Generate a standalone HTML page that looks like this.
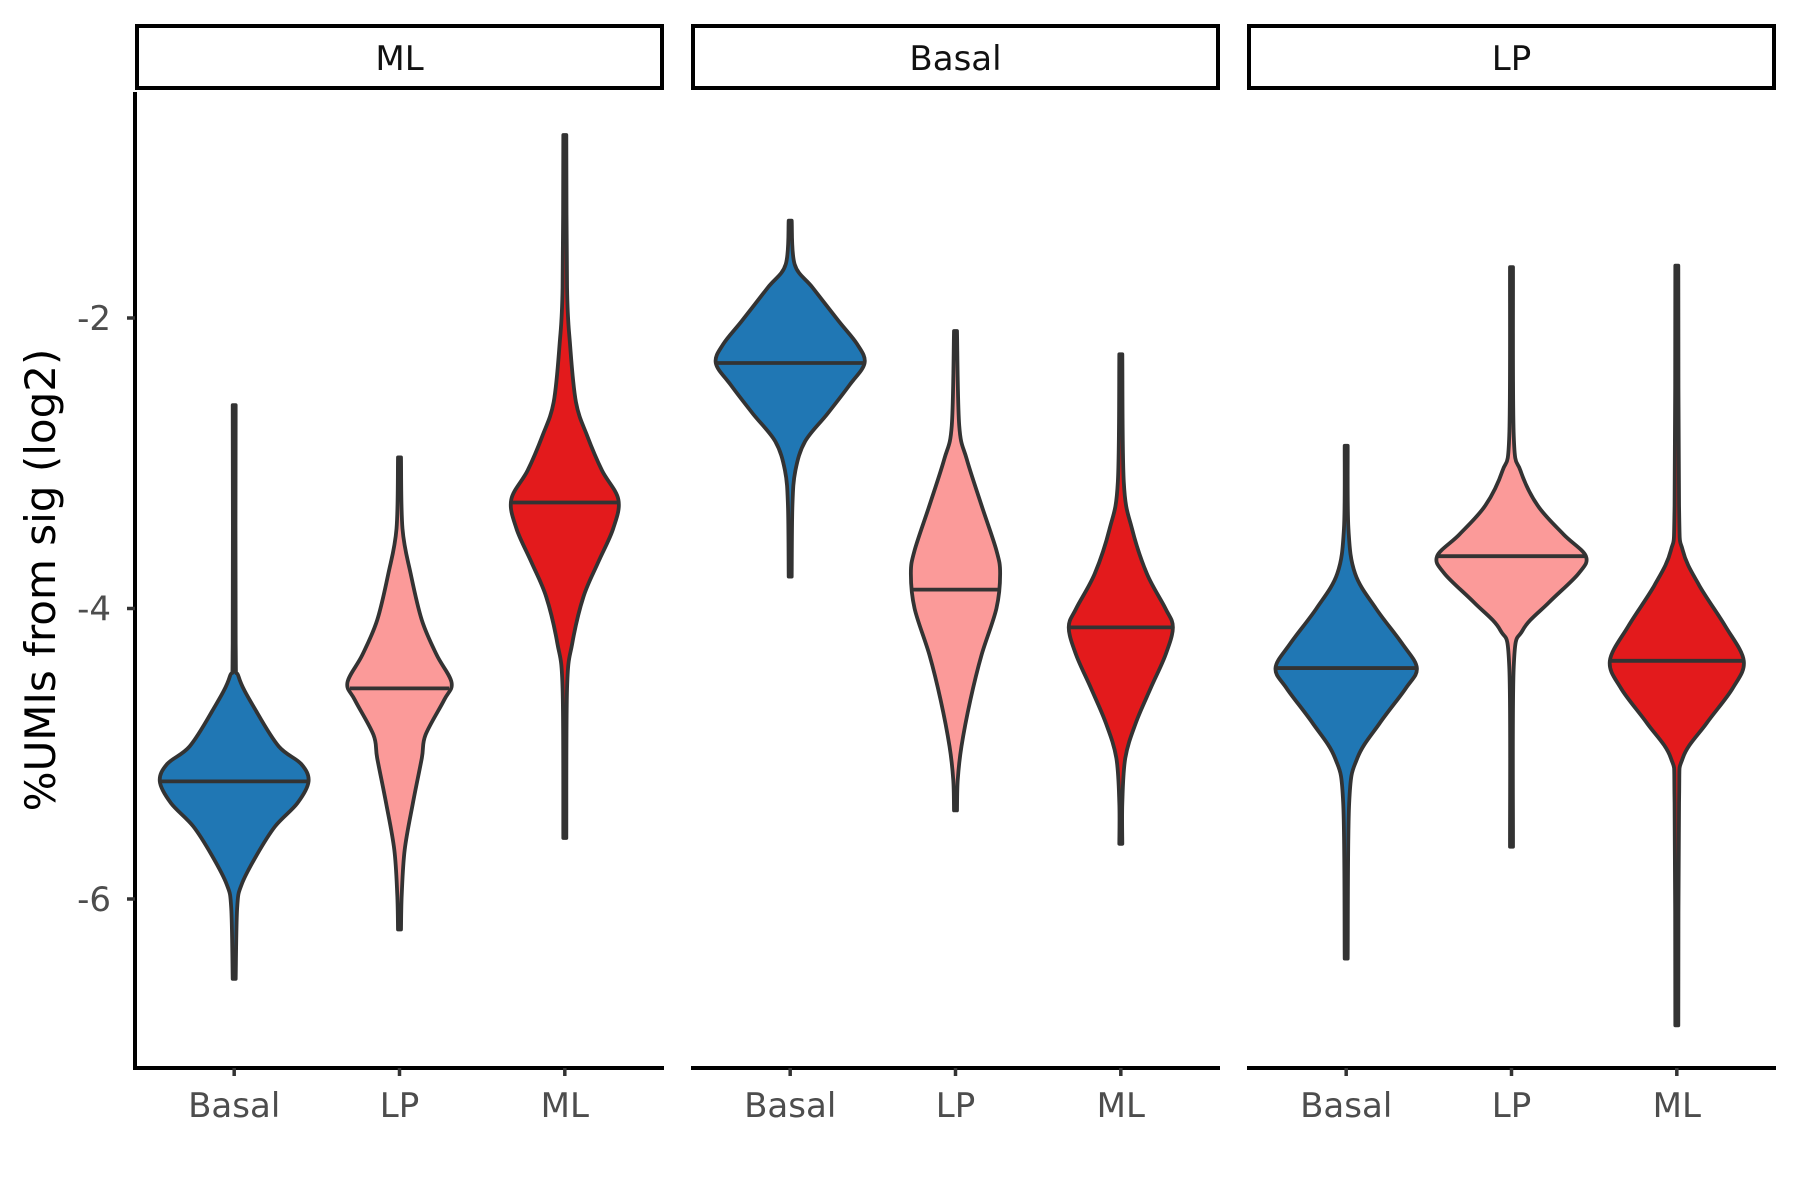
<!DOCTYPE html>
<html><head><meta charset="utf-8"><style>
html,body{margin:0;padding:0;background:#fff}
svg{display:block}
text{font-family:"DejaVu Sans","Liberation Sans",sans-serif}
</style></head><body>
<svg id="chart" width="1800" height="1200" viewBox="0 0 1800 1200" xmlns="http://www.w3.org/2000/svg">
<rect width="1800" height="1200" fill="#fff"/>
<g id="g"></g>
</svg>
<script>
const panels = ["ML", "Basal", "LP"];
const categories = ["Basal", "LP", "ML"];
const yTicks = [-2, -4, -6];
const fills = ["#2077B4", "#FB9A99", "#E31A1C"];
// each violin: [panelIndex, categoryIndex], medians, and density profiles [value, relativeHalfWidth]
const violinKeys = [[0,0],[0,1],[0,2],[1,0],[1,1],[1,2],[2,0],[2,1],[2,2]];
const medians = [-5.19, -4.55, -3.27, -2.31, -3.87, -4.13, -4.41, -3.64, -4.36];
const profiles = [
 [[-2.60,0.02],[-4.24,0.02],[-4.47,0.06],[-4.71,0.3],[-4.95,0.6],[-5.07,0.9],[-5.19,1.0],[-5.34,0.85],[-5.5,0.55],[-5.70,0.3],[-5.9,0.1],[-6.06,0.04],[-6.55,0.02]],
 [[-2.96,0.02],[-3.45,0.04],[-3.76,0.15],[-4.08,0.3],[-4.32,0.5],[-4.51,0.7],[-4.63,0.6],[-4.87,0.35],[-5.03,0.3],[-5.34,0.18],[-5.66,0.07],[-5.97,0.03],[-6.21,0.02]],
 [[-0.74,0.02],[-1.79,0.03],[-2.18,0.07],[-2.58,0.15],[-2.81,0.3],[-3.05,0.5],[-3.25,0.72],[-3.45,0.65],[-3.68,0.45],[-3.92,0.25],[-4.24,0.1],[-4.55,0.03],[-5.58,0.02]],
 [[-1.33,0.02],[-1.63,0.06],[-1.79,0.3],[-2.02,0.65],[-2.18,0.9],[-2.31,1.0],[-2.46,0.8],[-2.66,0.5],[-2.85,0.2],[-3.05,0.07],[-3.29,0.03],[-3.78,0.02]],
 [[-2.09,0.02],[-2.74,0.05],[-2.97,0.15],[-3.29,0.35],[-3.60,0.55],[-3.76,0.6],[-4.0,0.55],[-4.32,0.35],[-4.63,0.2],[-4.95,0.08],[-5.18,0.03],[-5.39,0.02]],
 [[-2.25,0.02],[-3.13,0.04],[-3.45,0.15],[-3.76,0.35],[-4.0,0.6],[-4.13,0.7],[-4.32,0.6],[-4.55,0.4],[-4.79,0.2],[-5.03,0.06],[-5.34,0.02],[-5.62,0.02]],
 [[-2.88,0.02],[-3.45,0.03],[-3.76,0.12],[-4.0,0.4],[-4.24,0.75],[-4.41,0.95],[-4.55,0.8],[-4.79,0.45],[-5.03,0.15],[-5.34,0.04],[-6.41,0.02]],
 [[-1.65,0.02],[-2.81,0.03],[-3.05,0.12],[-3.29,0.35],[-3.49,0.7],[-3.64,1.0],[-3.76,0.9],[-3.96,0.5],[-4.15,0.15],[-4.40,0.03],[-5.64,0.02]],
 [[-1.64,0.02],[-3.29,0.03],[-3.60,0.08],[-3.84,0.3],[-4.12,0.65],[-4.36,0.9],[-4.55,0.75],[-4.79,0.4],[-5.03,0.08],[-5.34,0.03],[-6.87,0.02]]
];

const NS = "http://www.w3.org/2000/svg";
const g = document.getElementById("g");
const panelLeft = [135, 691, 1247], panelW = 529;
const plotTop = 92, plotBottom = 1068;
const y = v => 318 + (-2 - v) * 145.25;
const x = (p, c) => panelLeft[p] + (c + 1 - 0.4) * panelW / 3.2;
const halfMax = 0.45 * panelW / 3.2;
function mk(tag, attrs, parent) {
  const e = document.createElementNS(NS, tag);
  for (const k in attrs) e.setAttribute(k, attrs[k]);
  (parent || g).appendChild(e);
  return e;
}
panels.forEach((name, p) => {
  const r = mk("rect", {x: panelLeft[p] + 2, y: 26, width: panelW - 4, height: 62, fill: "#fff", stroke: "#000", "stroke-width": 4});
  
  
  const t = mk("text", {x: panelLeft[p] + panelW / 2, y: 70, "text-anchor": "middle", "font-size": 34, fill: "#111"});
  t.textContent = name;
  
  
  const ax = mk("line", {x1: panelLeft[p], x2: panelLeft[p] + panelW, y1: plotBottom, y2: plotBottom, stroke: "#000", "stroke-width": 4});
  
  
  categories.forEach((c, ci) => {
    const cx = x(p, ci);
    const tk = mk("line", {x1: cx, x2: cx, y1: plotBottom, y2: plotBottom + 8, stroke: "#333", "stroke-width": 3.5});
    
    
    const tl = mk("text", {x: cx, y: 1117, "text-anchor": "middle", "font-size": 34, fill: "#4d4d4d"});
    tl.textContent = c;
    
    
  });
});
const yax = mk("line", {x1: 135, x2: 135, y1: plotTop, y2: plotBottom + 2, stroke: "#000", "stroke-width": 4});


yTicks.forEach(v => {
  const tk = mk("line", {x1: 127, x2: 135, y1: y(v), y2: y(v), stroke: "#333", "stroke-width": 3.5});
  
  
  const tl = mk("text", {x: 111, y: y(v) + 12, "text-anchor": "end", "font-size": 34, fill: "#4d4d4d"});
  tl.textContent = String(v);
  
  
});
const yt = mk("text", {x: 0, y: 0, transform: "translate(55,580) rotate(-90)", "text-anchor": "middle", "font-size": 42, fill: "#000"});
yt.textContent = "%UMIs from sig (log2)";



function smooth(pts) {
  let d = "M" + pts[0][0] + "," + pts[0][1];
  for (let i = 0; i < pts.length - 1; i++) {
    const p0 = pts[Math.max(0, i - 1)], p1 = pts[i], p2 = pts[i + 1], p3 = pts[Math.min(pts.length - 1, i + 2)];
    const c1 = [p1[0] + (p2[0] - p0[0]) / 6, p1[1] + (p2[1] - p0[1]) / 6];
    const c2 = [p2[0] - (p3[0] - p1[0]) / 6, p2[1] - (p3[1] - p1[1]) / 6];
    d += "C" + c1[0] + "," + c1[1] + " " + c2[0] + "," + c2[1] + " " + p2[0] + "," + p2[1];
  }
  return d;
}
violinKeys.forEach((k, i) => {
  const [p, c] = k;
  const cx = x(p, c);
  const prof = profiles[i];
  const right = prof.map(q => [cx + q[1] * halfMax, y(q[0])]);
  const left = prof.slice().reverse().map(q => [cx - q[1] * halfMax, y(q[0])]);
  const dR = smooth(right), dL = smooth(left).replace(/^M/, "L");
  const path = mk("path", {d: dR + dL + "Z", fill: fills[c], stroke: "#333", "stroke-width": 3.8, "stroke-linejoin": "round"});
  
  
  const m = medians[i];
  let w = 0;
  for (let j = 0; j < prof.length - 1; j++) {
    const a = prof[j], b = prof[j + 1];
    if (m <= a[0] && m >= b[0]) { const t = (a[0] - m) / (a[0] - b[0] || 1); w = a[1] + t * (b[1] - a[1]); }
  }
  const ml = mk("line", {x1: cx - w * halfMax, x2: cx + w * halfMax, y1: y(m), y2: y(m), stroke: "#333", "stroke-width": 3.8});
  
  
});
</script>
</body></html>
